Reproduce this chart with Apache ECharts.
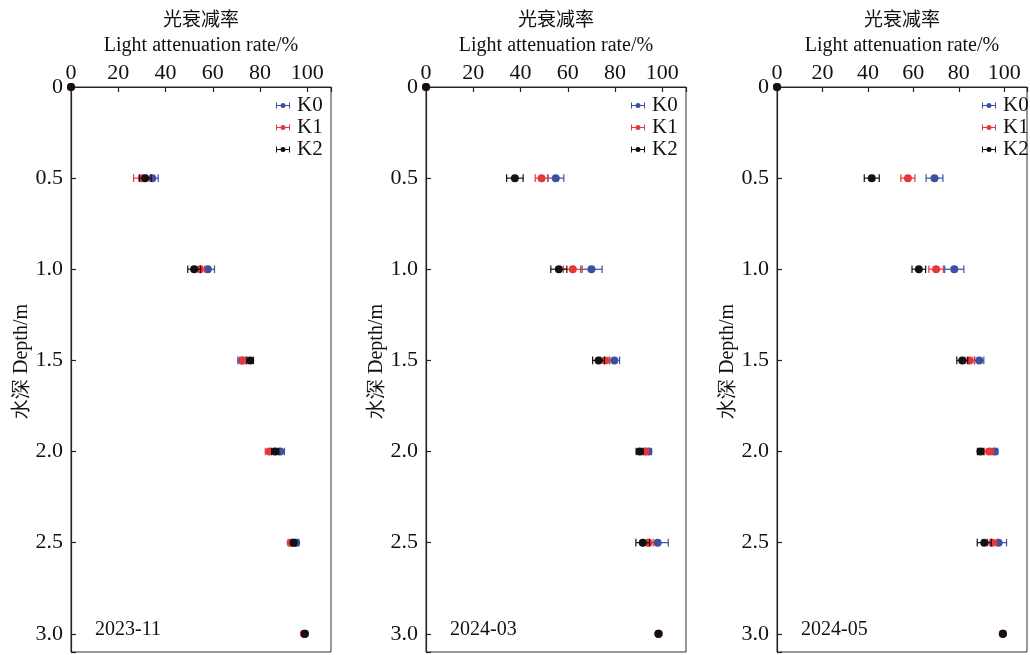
<!DOCTYPE html>
<html>
<head>
<meta charset="utf-8">
<script src="https://cdn.jsdelivr.net/npm/echarts@6/dist/echarts.min.js"></script>
<style>
html,body{margin:0;padding:0;background:#fff;}
#c{width:1030px;height:655px;}
</style>
</head>
<body>
<div id="c"></div>
<script>
// ---- data ----
var depths = [0, 0.5, 1.0, 1.5, 2.0, 2.5, 3.0];
var seriesNames = ['K0', 'K1', 'K2'];
var panelLabels = ['2023-11', '2024-03', '2024-05'];
var xTickValues = [0, 20, 40, 60, 80, 100];
var yTickValues = [0, 0.5, 1.0, 1.5, 2.0, 2.5, 3.0];

// 2023-11
var p1K0 = [0, 34.4, 57.9, 72.3, 88.5, 95.3, 99.0];
var p1K0err = [0, 2.5, 2.8, 1.7, 1.8, 1.0, 0.5];
var p1K1 = [0, 30.0, 54.6, 72.7, 83.9, 92.9, 98.5];
var p1K1err = [0, 3.5, 2.0, 1.3, 1.7, 1.0, 0.5];
var p1K2 = [0, 31.4, 52.1, 75.8, 86.4, 94.2, 98.9];
var p1K2err = [0, 2.5, 2.7, 1.4, 1.5, 0.8, 0.5];
// 2024-03
var p2K0 = [0, 54.9, 70.0, 79.7, 94.1, 98.0, 98.5];
var p2K0err = [0, 3.4, 4.5, 2.2, 1.3, 4.5, 0.5];
var p2K1 = [0, 48.9, 62.1, 75.8, 92.7, 94.1, 98.4];
var p2K1err = [0, 2.7, 4.0, 2.0, 1.5, 2.0, 0.5];
var p2K2 = [0, 37.6, 56.2, 73.0, 90.4, 91.7, 98.3];
var p2K2err = [0, 3.5, 3.4, 2.5, 1.5, 2.9, 0.5];
// 2024-05
var p3K0 = [0, 69.3, 78.0, 89.0, 95.8, 97.5, 99.4];
var p3K0err = [0, 3.7, 4.2, 2.0, 1.3, 3.5, 0.5];
var p3K1 = [0, 57.6, 70.0, 84.8, 93.3, 94.7, 99.3];
var p3K1err = [0, 3.1, 3.2, 2.0, 2.0, 2.0, 0.5];
var p3K2 = [0, 41.7, 62.4, 81.5, 89.5, 91.2, 99.4];
var p3K2err = [0, 3.3, 3.0, 2.4, 1.3, 3.1, 0.5];

var panels = [
  [[p1K0, p1K0err], [p1K1, p1K1err], [p1K2, p1K2err]],
  [[p2K0, p2K0err], [p2K1, p2K1err], [p2K2, p2K2err]],
  [[p3K0, p3K0err], [p3K1, p3K1err], [p3K2, p3K2err]]
];

// ---- style ----
var colors = ['#3e4f9e', '#e5383b', '#111111'];
var gridLefts = [71, 426, 777];
var gridTop = 87, gridW = 260, gridH = 565;
var serif = '"Liberation Serif", "Times New Roman", serif';
var cjk = '"Noto Sans CJK SC", sans-serif';
var legendIcon = 'path://M0,0h1v6h-1Z M13,0h1v6h-1Z M0,2.5h4.6v1h-4.6Z M9.4,2.5h4.6v1h-4.6Z M4.5,3a2.5,2.5 0 1,0 5,0a2.5,2.5 0 1,0 -5,0Z';

function renderErr(color) {
  return function (params, api) {
    var v = api.value(0), d = api.value(1), e = api.value(2);
    var c = api.coord([v, d]);
    var l = api.coord([v - e, d]);
    var r = api.coord([v + e, d]);
    var h = 3.8;
    var st = {stroke: color, lineWidth: 1.2};
    var children = [];
    if (e > 0) {
      children.push({type: 'line', shape: {x1: l[0], y1: c[1], x2: r[0], y2: c[1]}, style: st});
      children.push({type: 'line', shape: {x1: l[0], y1: c[1] - h, x2: l[0], y2: c[1] + h}, style: st});
      children.push({type: 'line', shape: {x1: r[0], y1: c[1] - h, x2: r[0], y2: c[1] + h}, style: st});
    }
    children.push({type: 'circle', shape: {cx: c[0], cy: c[1], r: 4}, style: {fill: color}});
    return {type: 'group', children: children};
  };
}

var grids = [], xAxes = [], yAxes = [], series = [], legends = [], titles = [];
for (var p = 0; p < 3; p++) {
  grids.push({left: gridLefts[p], top: gridTop, width: gridW, height: gridH,
    show: true, borderColor: '#333', borderWidth: 1, backgroundColor: 'transparent'});
  xAxes.push({
    type: 'value', gridIndex: p, position: 'top', min: 0, max: 110, interval: 20,
    name: '{cn|光衰减率}\n{en|Light attenuation rate/%}',
    nameLocation: 'middle', nameGap: 28,
    nameTextStyle: {rich: {
      cn: {fontFamily: cjk, fontSize: 19, color: '#111', lineHeight: 27, align: 'center'},
      en: {fontFamily: serif, fontSize: 20, color: '#111', lineHeight: 27, align: 'center'}
    }},
    axisLine: {show: true, onZero: false, lineStyle: {color: '#222', width: 1.2}},
    axisTick: {show: true, inside: true, length: 5, lineStyle: {color: '#222', width: 1.2}},
    axisLabel: {fontFamily: serif, fontSize: 22, color: '#111', margin: 3,
      formatter: function (v) { return xTickValues.indexOf(v) >= 0 ? String(v) : ''; }},
    splitLine: {show: false}
  });
  yAxes.push({
    type: 'value', gridIndex: p, inverse: true, min: 0, max: 3.1, interval: 0.5,
    name: '水深 Depth/m', nameLocation: 'middle', nameGap: 36,
    nameTextStyle: {fontFamily: serif, fontSize: 20, color: '#111', padding: [0, 0, 0, 16]},
    axisLine: {show: true, onZero: false, lineStyle: {color: '#222', width: 1.2}},
    axisTick: {show: true, inside: true, length: 5, lineStyle: {color: '#222', width: 1.2}},
    axisLabel: {fontFamily: serif, fontSize: 22, color: '#111', margin: 8,
      formatter: function (v) {
        if (v > 3.05) return '';
        return v === 0 ? '0' : v.toFixed(1);
      }},
    splitLine: {show: false}
  });
  for (var s = 0; s < 3; s++) {
    var vals = panels[p][s][0], errs = panels[p][s][1];
    var data = [];
    for (var i = 0; i < depths.length; i++) data.push([vals[i], depths[i], errs[i]]);
    series.push({
      type: 'custom', name: seriesNames[s], xAxisIndex: p, yAxisIndex: p,
      renderItem: renderErr(colors[s]), clip: false, z: 3 + s,
      itemStyle: {color: colors[s]},
      encode: {x: 0, y: 1},
      data: data
    });
  }
  legends.push({
    data: seriesNames.map(function (n, k) { return {name: n, icon: legendIcon, itemStyle: {color: colors[k]}}; }),
    orient: 'vertical', left: gridLefts[p] + 205, top: 95, itemGap: 1, padding: 0,
    itemWidth: 14, itemHeight: 6,
    textStyle: {fontFamily: serif, fontSize: 21, color: '#111', padding: [0, 0, 0, 2]}
  });
  titles.push({text: panelLabels[p], left: gridLefts[p] + 24, top: 620,
    textStyle: {fontFamily: serif, fontSize: 20, fontWeight: 'normal', color: '#111'}, padding: 0});
}

var chart = echarts.init(document.getElementById('c'), null, {renderer: 'canvas'});
chart.setOption({
  animation: false,
  backgroundColor: '#fff',
  title: titles,
  grid: grids,
  xAxis: xAxes,
  yAxis: yAxes,
  legend: legends,
  series: series
});
</script>
</body>
</html>
